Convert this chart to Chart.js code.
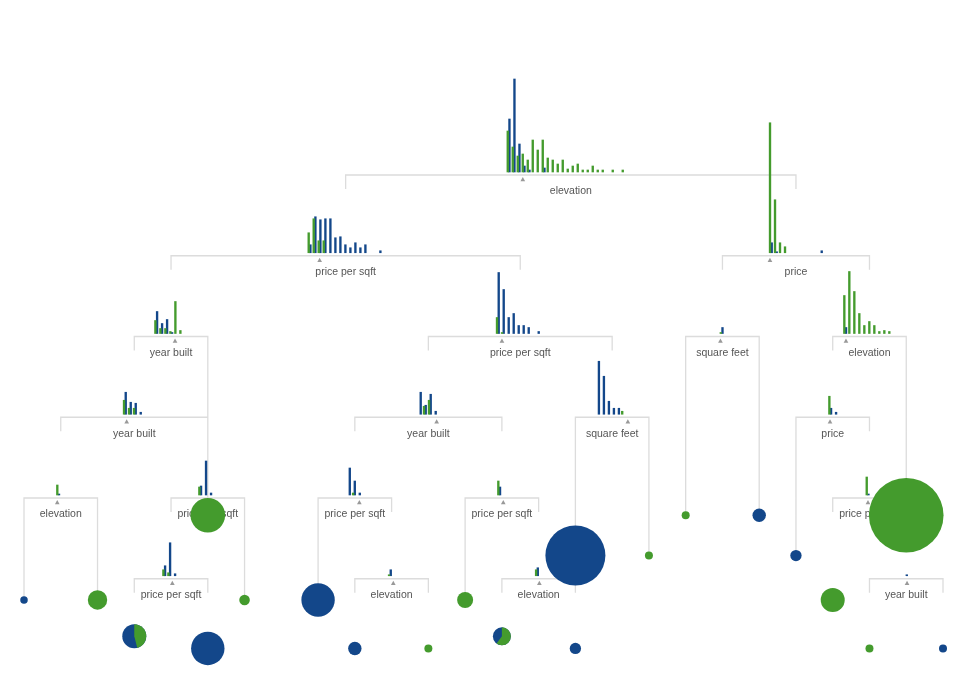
<!DOCTYPE html>
<html>
<head>
<meta charset="utf-8">
<script src="https://cdn.jsdelivr.net/npm/chart.js@4.4.0/dist/chart.umd.min.js"></script>
<style>
  html, body { margin: 0; padding: 0; background: #fff; }
  #wrap { width: 970px; height: 687px; }
</style>
</head>
<body>
<div id="wrap"><canvas id="tree"></canvas></div>
<script>
// split feature of every node, top to bottom, left to right
const nodeFeatures = [
    "elevation",
    "price per sqft", "price",
    "year built", "price per sqft", "square feet", "elevation",
    "year built", "year built", "square feet", "price",
    "elevation", "price per sqft", "price per sqft", "price per sqft", "price per sqft",
    "price per sqft", "elevation", "elevation", "year built"
];

// histogram of samples reaching each node (green class / blue class per bin)
const greenCounts = [
    [41, 25, 16, 18, 12, 32, 22, 32, 14, 12, 8, 12, 3, 6, 8, 2, 2, 6, 2, 2, 0, 2, 0, 2],
    [20, 34, 12, 12, 0],
    [130, 53, 10, 6],
    [13, 5, 5, 2, 32, 3],
    [16, 1],
    [1],
    [38, 62, 42, 20, 8, 12, 8, 2, 3, 2],
    [14, 6, 6, 0],
    [0, 8, 14, 0],
    [0, 0, 0, 0, 0, 3],
    [18, 0],
    [10],
    [8, 0, 0],
    [0, 2, 0],
    [14],
    [18],
    [6, 3, 0],
    [1],
    [6],
    [0]
];
const blueCounts = [
    [53, 93, 28, 6, 2, 0, 0, 4],
    [8, 36, 33, 34, 34, 15, 16, 8, 5, 10, 5, 8, 0, 0, 2],
    [10, 1, 0, 0, 0, 0, 0, 0, 0, 0, 2],
    [22, 10, 14, 1],
    [61, 44, 16, 20, 8, 8, 6, 0, 2],
    [6],
    [6],
    [22, 12, 11, 2],
    [22, 9, 20, 3],
    [53, 38, 13, 6, 6, 0],
    [6, 2],
    [1],
    [9, 34, 2],
    [27, 14, 2],
    [8],
    [1],
    [10, 33, 2],
    [6],
    [8],
    [1]
];

// leaves: sample count and share of the green class
const leafSamples = [14, 94, 299, 28, 144, 279, 279, 45, 16, 64, 81, 900, 32, 16, 16, 45, 32, 144, 1391, 16, 16];
const leafGreenShare = [0, 1, 1, 1, 0.46, 0, 0, 0, 1, 1, 0.6, 0, 0, 1, 1, 0, 0, 1, 1, 1, 0];

// tree layout (slots across, depth down)
const nodeDepth = [0, 1, 1, 2, 2, 2, 2, 3, 3, 3, 3, 4, 4, 4, 4, 4, 5, 5, 5, 5];
const nodeChildSlots = [
    [8.75, 21], [4, 13.5], [19, 23], [3, 5], [11, 16], [18, 20], [22, 24],
    [1, 5], [9, 13], [15, 17], [21, 23], [0, 2], [4, 6], [8, 10], [12, 14],
    [22, 24], [3, 5], [9, 11], [13, 15], [23, 25]
];
// where the link under each child stops (null = short stub)
const nodeLinkEnds = [
    [null, null], [null, null], [null, null], [null, 4.25], [null, null], [4.25, 4.25], [null, 4.25],
    [null, null], [null, null], [4.75, 4.75], [4.75, null], [5.3, 5.3], [null, 5.3], [5.3, null],
    [5.3, null], [null, null], [null, null], [null, null], [null, null], [null, null]
];
const histOffset = [-62.2, -36.1, -25.1, -14.8, -22.4, -0.8, -24.3, -9.4, -8.5, -14.1, -2.5, -2.6, -7.6, -5.9, -2.7, -1.9, -6.8, -1.7, -1.7, -0.3];
const splitOffset = [-48, -26, -26, 4, -18.3, -2, -23.5, -7.6, 8.3, 15.7, -2.7, -3.5, -4, 4.5, 1.4, -1.5, 1.3, 1.7, 0.7, 0.8];
const leafSlot = [0, 2, 5, 6, 3, 5, 8, 9, 11, 12, 13, 15, 15, 17, 18, 20, 21, 22, 24, 23, 25];
const leafDepth = [5.3, 5.3, 4.25, 5.3, 5.75, 5.9, 5.3, 5.9, 5.9, 5.3, 5.75, 4.75, 5.9, 4.75, 4.25, 4.25, 4.75, 5.3, 4.25, 5.9, 5.9];

const GREEN = "#449b2d";
const BLUE = "#13478a";
const LINK = "#dcdcdc";
const SLOT = 36.76, X0 = 24, ROW = 80.75, Y0 = 172;
const BIN = 5;

const sx = s => X0 + s * SLOT;
const dy = d => Y0 + d * ROW;
const nodeX = i => sx((nodeChildSlots[i][0] + nodeChildSlots[i][1]) / 2);

const greenBars = [], blueBars = [], links = [], splits = [];

nodeFeatures.forEach((f, i) => {
    const cx = nodeX(i);
    const base = dy(nodeDepth[i]);
    greenCounts[i].forEach((v, b) => {
        if (v > 0) greenBars.push({ x: cx + histOffset[i] + b * BIN, y: [base, base - v] });
    });
    blueCounts[i].forEach((v, b) => {
        if (v > 0) blueBars.push({ x: cx + histOffset[i] + b * BIN, y: [base, base - v] });
    });

    // bracket to the two children
    const [l, r] = nodeChildSlots[i];
    const yb = base + 3;
    const ends = nodeLinkEnds[i].map(e => e === null ? base + 17 : dy(e));
    links.push({ x: sx(l), y: ends[0] }, { x: sx(l), y: yb }, { x: sx(r), y: yb }, { x: sx(r), y: ends[1] });
    links.push({ x: sx(r), y: null });

    splits.push({ x: cx + splitOffset[i], y: base + 7.8 });
});

const leaves = leafSlot.map((s, i) => ({
    x: sx(s),
    y: dy(leafDepth[i]),
    r: Math.sqrt(leafSamples[i])
}));

// labels go under the leaves
const labelPlugin = {
    id: "nodeLabels",
    beforeDatasetsDraw(chart) {
        const { ctx, scales: { x, y } } = chart;
        ctx.save();
        ctx.font = "10.5px 'Liberation Sans', Arial, sans-serif";
        ctx.fillStyle = "#555";
        ctx.textAlign = "center";
        ctx.textBaseline = "middle";
        nodeFeatures.forEach((f, i) => {
            ctx.fillText(f, x.getPixelForValue(nodeX(i)), y.getPixelForValue(dy(nodeDepth[i])) + 19.5);
        });
        ctx.restore();
    }
};

// green slice on top of mixed leaves
const piePlugin = {
    id: "leafPies",
    afterDatasetsDraw(chart) {
        const { ctx, scales: { x, y } } = chart;
        ctx.save();
        leaves.forEach((p, i) => {
            const share = leafGreenShare[i];
            if (share <= 0 || share >= 1) return;
            const px = x.getPixelForValue(p.x), py = y.getPixelForValue(p.y);
            const start = -Math.PI / 2;
            ctx.beginPath();
            ctx.moveTo(px, py);
            ctx.arc(px, py, p.r, start, start + share * Math.PI * 2);
            ctx.closePath();
            ctx.fillStyle = GREEN;
            ctx.fill();
        });
        ctx.restore();
    }
};

new Chart(document.getElementById("tree"), {
    type: "scatter",
    data: {
        datasets: [
            {
                type: "bubble",
                data: leaves,
                backgroundColor: leafGreenShare.map(s => s === 1 ? GREEN : BLUE),
                borderWidth: 0
            },
            {
                type: "scatter",
                data: splits,
                pointStyle: "triangle",
                pointRadius: 2.7,
                backgroundColor: "#999",
                borderWidth: 0
            },
            {
                type: "bar",
                data: greenBars,
                backgroundColor: GREEN,
                barThickness: 1.7,
                borderWidth: 0
            },
            {
                type: "bar",
                data: blueBars,
                backgroundColor: BLUE,
                barThickness: 1.7,
                borderWidth: 0
            },
            {
                type: "line",
                data: links,
                borderColor: LINK,
                borderWidth: 1.3,
                pointRadius: 0,
                spanGaps: false,
                fill: false,
                tension: 0
            }
        ]
    },
    options: {
        responsive: true,
        maintainAspectRatio: false,
        animation: false,
        events: [],
        layout: { padding: 0, autoPadding: false },
        plugins: {
            legend: { display: false },
            tooltip: { enabled: false }
        },
        scales: {
            x: { type: "linear", min: 0, max: 970, display: false, offset: false },
            y: { type: "linear", min: 0, max: 687, reverse: true, display: false }
        }
    },
    plugins: [labelPlugin, piePlugin]
});
</script>
</body>
</html>
